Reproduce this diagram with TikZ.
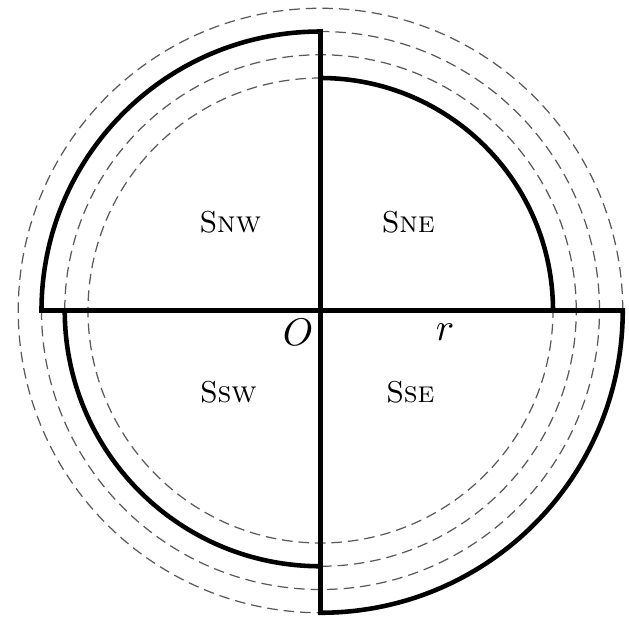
\documentclass[tikz,border=0pt]{standalone}
\begin{document}
\begin{tikzpicture}[
        ring/.style={draw=black!65, dashed, dash pattern=on 3pt off 1.7pt, line width=0.35pt},
        sector/.style={draw, line width=1.3pt, line join=miter},
        area/.style={font=\fontsize{8.6}{10}\selectfont, inner sep=0pt},
        mathlbl/.style={font=\fontsize{10.5}{12}\selectfont, inner sep=0pt}
    ]
        \useasboundingbox (-3.205,-3.065) rectangle (3.085,3.105);
        \def\rr{2.325}
        \coordinate (O) at (0,0);

        % === Dashed rings ===
        \foreach \k in {1.0,1.1,1.2,1.3}
            \draw[ring] (O) circle ({\k*\rr});

        % === Quadrant sectors ===
        \draw[sector] (O) -- (0:\rr) arc[start angle=0, end angle=90, radius=\rr] -- cycle;
        \draw[sector] (O) -- (90:1.2*\rr) arc[start angle=90, end angle=180, radius=1.2*\rr] -- cycle;
        \draw[sector] (O) -- (180:1.1*\rr) arc[start angle=180, end angle=270, radius=1.1*\rr] -- cycle;
        \draw[sector] (O) -- (270:1.3*\rr) arc[start angle=270, end angle=360, radius=1.3*\rr] -- cycle;

        % === Labels ===
        \node[area] (SNW) at (-0.9,0.88) {S\textsc{nw}};
        \node[area] (SNE) at (0.88,0.88) {S\textsc{ne}};
        \node[area] (SSW) at (-0.92,-0.815) {S\textsc{sw}};
        \node[area] (SSE) at (0.9,-0.815) {S\textsc{se}};
        \node[mathlbl] (Olbl) at (-0.225,-0.215) {$O$};
        \node[mathlbl] (rlbl) at (1.245,-0.215) {$r$};
    \end{tikzpicture}
\end{document}
